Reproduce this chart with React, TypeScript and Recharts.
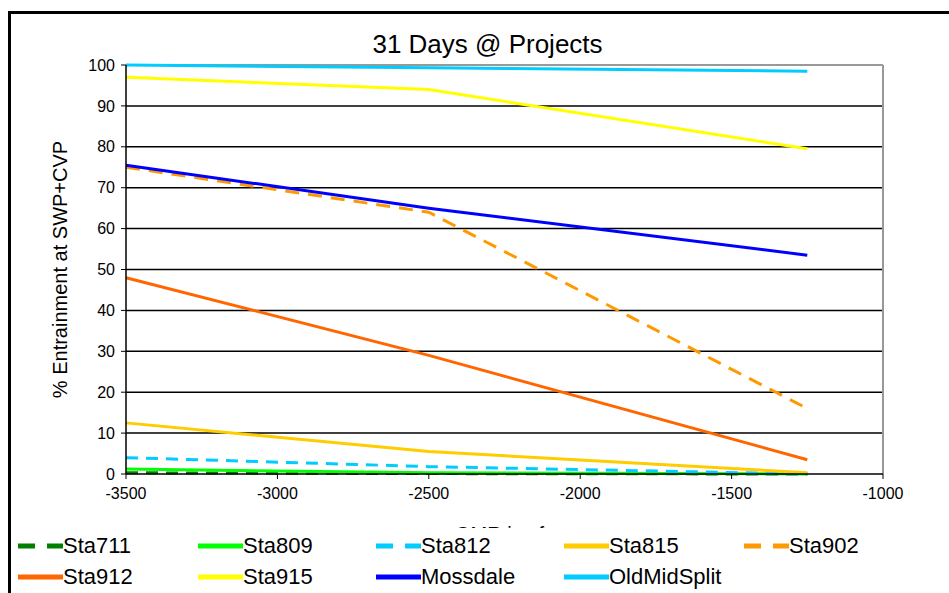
import React from 'react';
import { LineChart, Line, XAxis, YAxis, CartesianGrid, ReferenceLine, Legend, Label } from 'recharts';

// OMR flow (cfs) at which each run was made
const omr = [-3500, -2500, -1250];

// % entrainment at SWP+CVP per station
const sta711 = [0.3, 0.1, 0];
const sta809 = [1.2, 0.3, 0];
const sta812 = [4, 1.8, 0];
const sta815 = [12.5, 5.5, 0.3];
const sta902 = [75, 64, 16];
const sta912 = [48, 29, 3.5];
const sta915 = [97, 94, 79.5];
const mossdale = [75.5, 65, 53.5];
const oldMidSplit = [100, 99.3, 98.5];

const xTicks = [-3500, -3000, -2500, -2000, -1500, -1000];
const yTicks = [0, 10, 20, 30, 40, 50, 60, 70, 80, 90, 100];

const series = [
    { key: 'Sta711', values: sta711, color: '#008000', dash: '12 8' },
    { key: 'Sta809', values: sta809, color: '#00FF00', dash: undefined },
    { key: 'Sta812', values: sta812, color: '#00CCFF', dash: '12 8' },
    { key: 'Sta815', values: sta815, color: '#FFCC00', dash: undefined },
    { key: 'Sta902', values: sta902, color: '#FF9900', dash: '14 9' },
    { key: 'Sta912', values: sta912, color: '#FF6600', dash: undefined },
    { key: 'Sta915', values: sta915, color: '#FFFF00', dash: undefined },
    { key: 'Mossdale', values: mossdale, color: '#0000FF', dash: undefined },
    { key: 'OldMidSplit', values: oldMidSplit, color: '#00CCFF', dash: undefined },
];

const data = omr.map((x, i) => {
    const row: Record<string, number> = { omr: x };
    series.forEach(s => { row[s.key] = s.values[i]; });
    return row;
});

const font = '"Liberation Sans", Arial, sans-serif';

const LegendBox = () => {
    // column starts, relative to the legend box (which begins at x=12)
    const colX = [6, 186, 364, 552, 732];
    return (
        <div style={{ position: 'relative', width: 937, height: 70, background: '#fff' }}>
            {series.map((s, i) => {
                const col = i % 5;
                const row = Math.floor(i / 5);
                return (
                    <div key={s.key} style={{ position: 'absolute', left: colX[col], top: 5 + row * 31, display: 'flex', alignItems: 'center', fontFamily: font, fontSize: 22, color: '#000', lineHeight: '26px' }}>
                        <svg width={45} height={10}>
                            <line x1={0} y1={5} x2={45} y2={5} stroke={s.color} strokeWidth={5} strokeDasharray={s.dash ? '17 12' : undefined} />
                        </svg>
                        <span>{s.key}</span>
                    </div>
                );
            })}
        </div>
    );
};

const App: React.FC = () => {
    return (
        <div style={{ position: 'absolute', left: 0, top: 0, width: 949, height: 593, background: '#fff', overflow: 'hidden' }}>
            <div style={{ position: 'absolute', left: 8, top: 11, width: 960, height: 600, borderLeft: '3px solid #000', borderTop: '3px solid #000' }} />
            <div style={{ position: 'absolute', left: 0, top: 29, width: 975, textAlign: 'center', fontFamily: font, fontSize: 26, color: '#000' }}>
                31 Days @ Projects
            </div>
            <LineChart width={949} height={593} data={data} margin={{ top: 65, right: 66, bottom: 89, left: 0 }} style={{ position: 'absolute', left: 0, top: 0 }}>
                <CartesianGrid vertical={false} horizontalValues={[10, 20, 30, 40, 50, 60, 70, 80, 90]} stroke="#000" strokeWidth={1.5} />
                <ReferenceLine y={100} stroke="#999" strokeWidth={2} />
                <ReferenceLine x={-1000} stroke="#999" strokeWidth={2} />
                <XAxis
                    dataKey="omr"
                    type="number"
                    domain={[-3500, -1000]}
                    ticks={xTicks}
                    height={30}
                    axisLine={{ stroke: '#000', strokeWidth: 1.5 }}
                    tickLine={{ stroke: '#000' }}
                    tickSize={5}
                    tick={{ fill: '#000', fontSize: 16, fontFamily: font }}
                    tickMargin={9}
                >
                    <Label value="OMR in cfs" position="insideBottom" offset={-37} style={{ fill: '#000', fontSize: 20, fontFamily: font }} />
                </XAxis>
                <YAxis
                    type="number"
                    domain={[0, 100]}
                    ticks={yTicks}
                    width={126}
                    axisLine={{ stroke: '#000', strokeWidth: 1.5 }}
                    tickLine={{ stroke: '#000' }}
                    tickSize={5}
                    tick={{ fill: '#000', fontSize: 16, fontFamily: font }}
                    tickMargin={6}
                >
                    <Label value="% Entrainment at SWP+CVP" angle={-90} position="insideLeft" offset={60} style={{ fill: '#000', fontSize: 20, fontFamily: font, textAnchor: 'middle' }} />
                </YAxis>
                {series.map(s => (
                    <Line
                        key={s.key}
                        type="linear"
                        dataKey={s.key}
                        stroke={s.color}
                        strokeWidth={3}
                        strokeDasharray={s.dash}
                        dot={false}
                        activeDot={false}
                        isAnimationActive={false}
                    />
                ))}
                <Legend content={() => <LegendBox />} wrapperStyle={{ position: 'absolute', left: 12, top: 528, width: 937, height: 0 }} />
            </LineChart>
        </div>
    );
};

export default App;
